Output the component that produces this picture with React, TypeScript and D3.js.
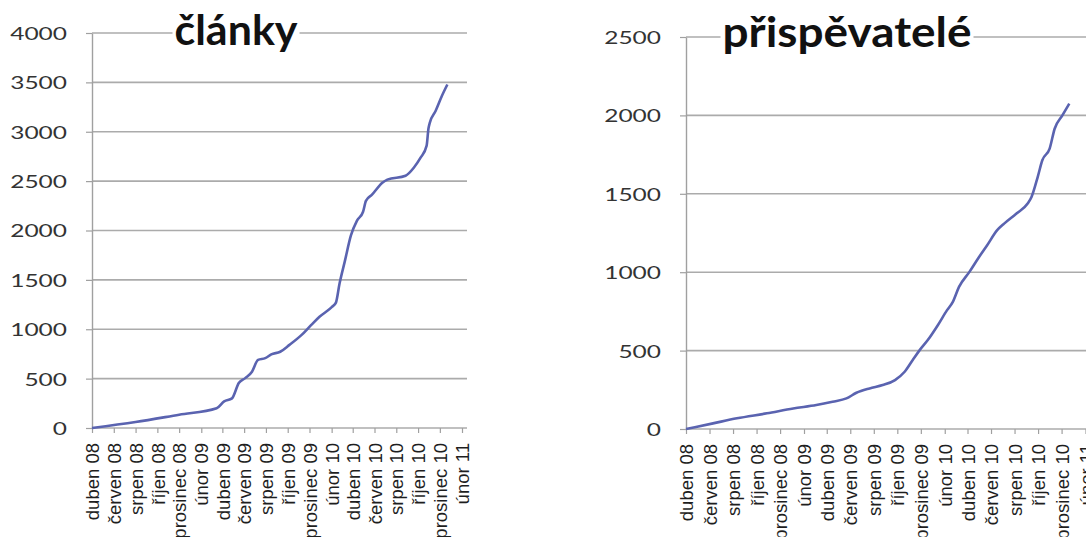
import * as d3 from 'd3';
import { useEffect, useRef } from 'react';

// x axis labels, one every two months starting duben 08
const tickLabels = [
  'duben 08', 'červen 08', 'srpen 08', 'říjen 08', 'prosinec 08', 'únor 09',
  'duben 09', 'červen 09', 'srpen 09', 'říjen 09', 'prosinec 09', 'únor 10',
  'duben 10', 'červen 10', 'srpen 10', 'říjen 10', 'prosinec 10', 'únor 11',
];

// články (articles)
const clankyDates = [
  '2008-04-01', '2008-08-01', '2008-12-01', '2009-03-16', '2009-04-06', '2009-04-28',
  '2009-05-17', '2009-06-04', '2009-06-23', '2009-07-10', '2009-07-30', '2009-08-16',
  '2009-09-10', '2009-10-06', '2009-11-09', '2009-12-06', '2009-12-29', '2010-02-02',
  '2010-02-13', '2010-02-23', '2010-03-10', '2010-03-27', '2010-04-13', '2010-04-30',
  '2010-05-08', '2010-05-25', '2010-06-23', '2010-07-07', '2010-08-27', '2010-09-19',
  '2010-10-08', '2010-10-25', '2010-10-30', '2010-11-03', '2010-11-19', '2010-12-06',
  '2010-12-22',
];
const clankyValues = [
  0, 60, 135, 200, 270, 300,
  455, 505, 570, 690, 707, 745,
  772, 842, 943, 1044, 1126, 1227,
  1270, 1460, 1690, 1950, 2100, 2190,
  2300, 2363, 2484, 2515, 2555, 2636,
  2737, 2860, 3030, 3093, 3210, 3357,
  3478,
];

// přispěvatelé (contributors)
const prispevateleDates = [
  '2008-04-01', '2008-06-10', '2008-08-11', '2008-10-28', '2009-01-04', '2009-03-05',
  '2009-04-16', '2009-05-22', '2009-06-17', '2009-07-21', '2009-08-24', '2009-09-25',
  '2009-10-20', '2009-11-10', '2009-11-28', '2009-12-19', '2010-01-14', '2010-02-07',
  '2010-02-22', '2010-03-10', '2010-04-06', '2010-05-01', '2010-05-22', '2010-06-17',
  '2010-07-05', '2010-08-06', '2010-09-04', '2010-09-14', '2010-09-30', '2010-10-12',
  '2010-10-31', '2010-11-13', '2010-12-03', '2010-12-21',
];
const prispevateleValues = [
  0, 36, 68, 100, 131, 153,
  174, 195, 231, 259, 280, 312,
  365, 440, 503, 567, 662, 758,
  811, 906, 1002, 1097, 1172, 1268,
  1310, 1374, 1438, 1480, 1607, 1714,
  1788, 1915, 2000, 2075,
];

const clankyTicks = [0, 500, 1000, 1500, 2000, 2500, 3000, 3500, 4000];
const prispevateleTicks = [0, 500, 1000, 1500, 2000, 2500];

const parse = d3.timeParse('%Y-%m-%d');
const startDate = parse('2008-04-01') as Date;
const tickDates = tickLabels.map((_l, i) => d3.timeMonth.offset(startDate, i * 2));

interface ChartCfg {
  title: string;
  dates: string[];
  values: number[];
  yTicks: number[];
  left: number;
  right: number;
  gridRight: number;
  top: number;
  bottom: number;
  titleX: number;
  titleY: number;
  titleWidth: number;
}

function drawChart(svg: d3.Selection<SVGSVGElement, unknown, null, undefined>, cfg: ChartCfg) {
  const g = svg.append('g');
  const x = d3
    .scaleTime()
    .domain([startDate, tickDates[tickDates.length - 1]])
    .range([cfg.left, cfg.right]);
  const y = d3
    .scaleLinear()
    .domain([0, d3.max(cfg.yTicks) as number])
    .range([cfg.bottom, cfg.top]);

  // gridlines
  g.selectAll('.grid')
    .data(cfg.yTicks)
    .enter()
    .append('line')
    .attr('x1', cfg.left)
    .attr('x2', cfg.gridRight)
    .attr('y1', (d) => y(d))
    .attr('y2', (d) => y(d))
    .attr('stroke', '#ababab')
    .attr('stroke-width', 1.6);

  // y axis
  const yAxis = g
    .append('g')
    .attr('transform', `translate(${cfg.left},0)`)
    .call(
      d3
        .axisLeft(y)
        .tickValues(cfg.yTicks)
        .tickSize(6)
        .tickSizeOuter(0)
        .tickFormat((d) => String(d))
    );
  yAxis.select('.domain').attr('stroke', '#a0a0a0').attr('stroke-width', 1.4);
  yAxis.selectAll('.tick line').attr('stroke', '#a0a0a0').attr('stroke-width', 1.2);
  yAxis
    .selectAll('text')
    .attr('x', null)
    .attr('dy', '0.36em')
    .attr('transform', 'translate(-25,0) scale(1.36,1)')
    .attr('fill', '#333')
    .attr('font-family', 'Lato, "Open Sans", sans-serif')
    .attr('font-size', 18);

  // x axis
  const xAxis = g
    .append('g')
    .attr('transform', `translate(0,${cfg.bottom})`)
    .call(
      d3
        .axisBottom(x)
        .tickValues(tickDates)
        .tickSize(5)
        .tickSizeOuter(0)
        .tickFormat((_d, i) => tickLabels[i])
    );
  xAxis.select('.domain').remove();
  xAxis.selectAll('.tick line').attr('stroke', '#a0a0a0').attr('stroke-width', 1.2);
  xAxis
    .selectAll('text')
    .attr('transform', 'rotate(-90)')
    .attr('text-anchor', 'end')
    .attr('x', -15)
    .attr('y', 0)
    .attr('dy', '0.36em')
    .attr('fill', '#1e1e1e')
    .attr('font-family', '"Liberation Sans", Arial, sans-serif')
    .attr('font-size', 18.5);

  // line
  const points = cfg.dates.map((d, i) => ({ date: parse(d) as Date, value: cfg.values[i] }));
  const line = d3
    .line<{ date: Date; value: number }>()
    .x((d) => x(d.date))
    .y((d) => y(d.value))
    .curve(d3.curveMonotoneX);
  g.append('path')
    .datum(points)
    .attr('d', line)
    .attr('fill', 'none')
    .attr('stroke', '#5a63b0')
    .attr('stroke-width', 2.6)
    .attr('stroke-linejoin', 'round');

  // title with white box over the top gridline
  g.append('rect')
    .attr('x', cfg.titleX - cfg.titleWidth / 2 - 2)
    .attr('y', cfg.titleY - 36)
    .attr('width', cfg.titleWidth + 4)
    .attr('height', 50)
    .attr('fill', '#fff');
  g.append('text')
    .attr('x', cfg.titleX)
    .attr('y', cfg.titleY)
    .attr('text-anchor', 'middle')
    .attr('font-family', 'Lato, "Open Sans", sans-serif')
    .attr('font-weight', 'bold')
    .attr('font-size', 42)
    .attr('textLength', cfg.titleWidth)
    .attr('lengthAdjust', 'spacingAndGlyphs')
    .attr('fill', '#111')
    .text(cfg.title);
}

export default function App() {
  const chartRef = useRef<SVGSVGElement>(null);

  useEffect(() => {
    const svg = d3.select(chartRef.current as SVGSVGElement);
    svg.selectAll('*').remove();

    drawChart(svg, {
      title: 'články',
      dates: clankyDates,
      values: clankyValues,
      yTicks: clankyTicks,
      left: 92,
      right: 462,
      gridRight: 467,
      top: 33,
      bottom: 428,
      titleX: 236,
      titleY: 45,
      titleWidth: 123,
    });

    drawChart(svg, {
      title: 'přispěvatelé',
      dates: prispevateleDates,
      values: prispevateleValues,
      yTicks: prispevateleTicks,
      left: 686,
      right: 1085.5,
      gridRight: 1086,
      top: 37,
      bottom: 429,
      titleX: 847,
      titleY: 47,
      titleWidth: 249,
    });
  }, []);

  return (
    <svg
      ref={chartRef}
      width={1086}
      height={537}
      style={{ position: 'absolute', left: 0, top: 0, background: '#fff' }}
    />
  );
}
